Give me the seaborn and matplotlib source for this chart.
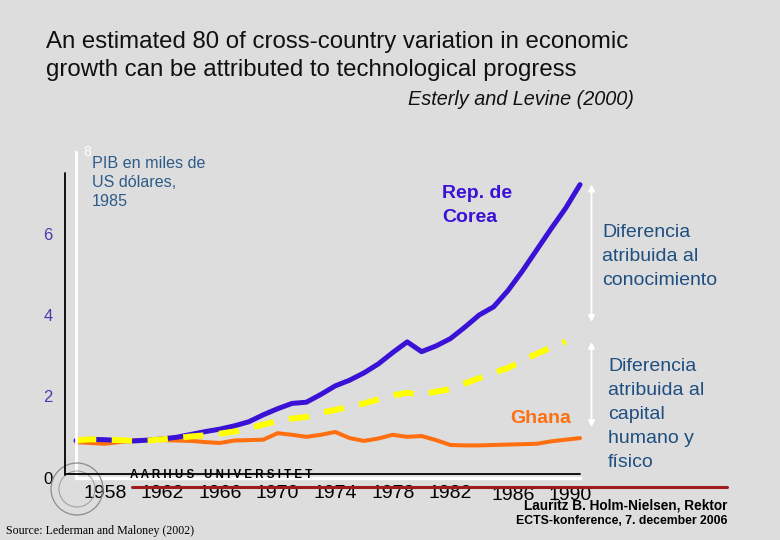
"""Slide chart: GDP paths of Korea vs Ghana, 1956-1991 (Lederman & Maloney)."""
import matplotlib
matplotlib.use("Agg")
import matplotlib.pyplot as plt
from matplotlib.lines import Line2D
from matplotlib.patches import Ellipse
from matplotlib.transforms import ScaledTranslation
import seaborn as sns

# --------------------------------------------------------------------------- #
# data (GDP per capita in thousand 1985 US$)
# --------------------------------------------------------------------------- #
years = list(range(1956, 1992))
korea = [0.92, 0.95, 0.94, 0.92, 0.91, 0.93, 0.96, 1.00, 1.07, 1.14,
         1.20, 1.28, 1.38, 1.55, 1.70, 1.83, 1.86, 2.05, 2.26, 2.40,
         2.58, 2.80, 3.08, 3.34, 3.10, 3.24, 3.42, 3.70, 4.00, 4.20,
         4.60, 5.08, 5.60, 6.12, 6.62, 7.20]
ghana = [0.88, 0.86, 0.84, 0.88, 0.92, 0.93, 0.93, 0.92, 0.91, 0.88,
         0.86, 0.92, 0.93, 0.94, 1.10, 1.06, 1.01, 1.06, 1.13, 0.98,
         0.91, 0.97, 1.06, 1.01, 1.03, 0.93, 0.81, 0.80, 0.80, 0.81,
         0.82, 0.83, 0.84, 0.90, 0.94, 0.98]
years_mid = list(range(1956, 1991))
capital_path = [0.92, 0.95, 0.94, 0.93, 0.91, 0.92, 0.95, 0.98, 1.02, 1.05,
                1.09, 1.14, 1.22, 1.31, 1.40, 1.46, 1.50, 1.60, 1.67, 1.75,
                1.83, 1.93, 2.03, 2.09, 2.04, 2.12, 2.18, 2.32, 2.45, 2.58,
                2.70, 2.88, 3.05, 3.20, 3.35]

xtick_years = [1958, 1962, 1966, 1970, 1974, 1978, 1982, 1986, 1990]
minor_years = list(range(1958, 1991, 2))
ytick_vals = [0, 2, 4, 6, 8]
ytick_labels = ["0", "2", "4", "6", ""]

arrow_x = 1991.8
arrow_knowledge = (7.20, 3.83)
arrow_capital = (3.34, 1.25)

BG = "#dddddd"
BLUE = "#3a12d6"
YELLOW = "#ffff00"
ORANGE = "#ff6f10"
TEAL = "#1f4f80"
PURPLE = "#4e3aae"

W, H = 780, 540


def fx(x):
    return x / W


def fy(y):
    return 1 - y / H


sns.set_style("white", {"axes.facecolor": BG, "figure.facecolor": BG})
plt.rcParams["font.family"] = ["Liberation Sans", "DejaVu Sans"]

fig = plt.figure(figsize=(7.8, 5.4), dpi=100, facecolor=BG)
ax = fig.add_axes([fx(76), fy(478), (580 - 76) / W, (478 - 152) / H])
ax.set_facecolor("none")

# series
sns.lineplot(x=years, y=ghana, color=ORANGE, lw=2.9, ax=ax, clip_on=False, zorder=3)
sns.lineplot(x=years, y=korea, color=BLUE, lw=3.6, ax=ax, clip_on=False, zorder=4)
sns.lineplot(x=years_mid, y=capital_path, color=YELLOW, lw=4.3, ax=ax,
             clip_on=False, zorder=5, ls=(0, (3.4, 2.6)))

ax.set_xlim(1956, 1991)
ax.set_ylim(0, 8)
ax.set_xlabel("")
ax.set_ylabel("")

for s in ("top", "right"):
    ax.spines[s].set_visible(False)
ax.spines["left"].set_color("white")
ax.spines["left"].set_linewidth(2)
ax.spines["bottom"].set_color("white")
ax.spines["bottom"].set_linewidth(2.4)
ax.spines["left"].set_zorder(6)
ax.spines["bottom"].set_zorder(6)

ax.set_xticks(xtick_years)
ax.set_xticklabels([str(y) for y in xtick_years])
ax.set_xticks(minor_years, minor=True)
ax.tick_params(axis="x", which="both", direction="in", color="white",
               length=6, width=1.5, labelsize=14, pad=5, labelcolor="black")
ax.set_yticks(ytick_vals)
ax.set_yticklabels(ytick_labels)
ax.tick_params(axis="y", direction="in", color="white", length=4, width=1.5,
               labelsize=12, pad=17)
for lbl in ax.get_yticklabels():
    lbl.set_color("black" if lbl.get_text() == "0" else PURPLE)
for lbl in ax.get_xticklabels()[-2:]:
    lbl.set_transform(lbl.get_transform()
                      + ScaledTranslation(0.05, -0.02, fig.dpi_scale_trans))

ax.annotate("8", xy=(0, 8), xycoords=("axes fraction", "data"),
            xytext=(7, 0), textcoords="offset pixels", color="white",
            fontsize=10, va="center", ha="left", annotation_clip=False)

# double arrows
for top, bot in (arrow_knowledge, arrow_capital):
    ax.annotate("", xy=(arrow_x, top), xytext=(arrow_x, bot),
                arrowprops=dict(arrowstyle="<|-|>", color="white", lw=1.3,
                                mutation_scale=9, shrinkA=0, shrinkB=0),
                annotation_clip=False)

# slide decorations
fig.add_artist(Line2D([fx(65), fx(65)], [fy(173), fy(475)], color="black", lw=1.3))
fig.add_artist(Line2D([fx(65), fx(580)], [fy(474), fy(474)], color="black", lw=1.3, zorder=2))
fig.add_artist(Line2D([fx(132), fx(727)], [fy(487), fy(487)], color="#a01c1c", lw=2.2))
fig.add_artist(Ellipse((fx(77), fy(489)), 52 / W, 52 / H, transform=fig.transFigure,
                       fill=False, ec="#8c8c8c", lw=0.9))
fig.add_artist(Ellipse((fx(77), fy(489)), 36 / W, 36 / H, transform=fig.transFigure,
                       fill=False, ec="#9a9a9a", lw=0.7))
fig.text(fx(130), fy(478), "A A R H U S   U N I V E R S I T E T", fontsize=8.3,
         fontweight="bold", color="black", va="baseline", ha="left", zorder=1)

# titles and labels
fig.text(fx(46), fy(31), "An estimated 80 of cross-country variation in economic\n"
         "growth can be attributed to technological progress",
         fontsize=17.3, color="#111111", va="top", ha="left", linespacing=1.33)
fig.text(fx(634), fy(100), "Esterly and Levine (2000)", fontsize=14.3, style="italic",
         color="#111111", va="center", ha="right")
fig.text(fx(92), fy(156), "PIB en miles de\nUS dólares,\n1985", fontsize=11.6,
         color="#2c5b8a", va="top", ha="left", linespacing=1.33)
fig.text(fx(442), fy(185), "Rep. de\nCorea", fontsize=14, fontweight="bold",
         color=BLUE, va="top", ha="left", linespacing=1.5)
fig.text(fx(602), fy(224), "Diferencia\natribuida al\nconocimiento", fontsize=14,
         color=TEAL, va="top", ha="left", linespacing=1.53)
fig.text(fx(608), fy(358), "Diferencia\natribuida al\ncapital\nhumano y\nfísico",
         fontsize=14, color=TEAL, va="top", ha="left", linespacing=1.53)
fig.text(fx(510), fy(410), "Ghana", fontsize=14, fontweight="bold", color=ORANGE,
         va="top", ha="left")
fig.text(fx(727), fy(506), "Lauritz B. Holm-Nielsen, Rektor", fontsize=9.8,
         fontweight="bold", color="black", va="center", ha="right")
fig.text(fx(727), fy(521), "ECTS-konference, 7. december 2006", fontsize=8.8,
         fontweight="bold", color="black", va="center", ha="right")
fig.text(fx(6), fy(531), "Source: Lederman and Maloney (2002)", fontsize=8.6,
         family="Liberation Serif", color="black", va="center", ha="left")

fig.savefig("out.png", dpi=100, facecolor=BG)
